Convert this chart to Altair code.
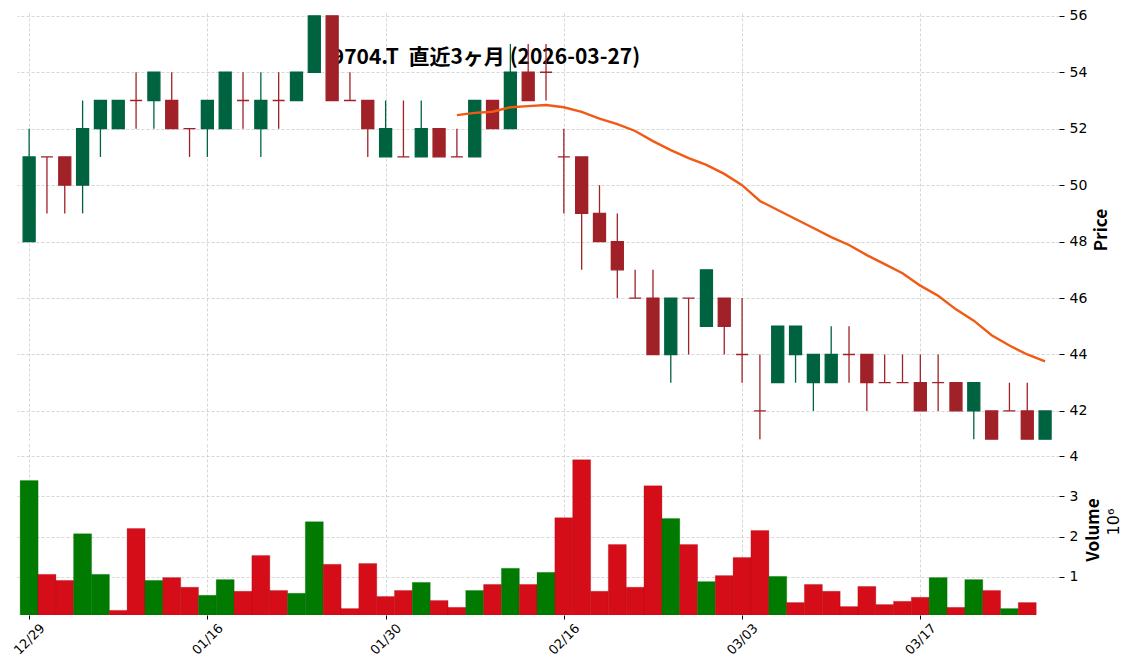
import altair as alt
import pandas as pd

# ---- data ----
dates = ["12/29", "12/30", "01/05", "01/06", "01/07", "01/08", "01/09", "01/13", "01/14", "01/15",
         "01/16", "01/19", "01/20", "01/21", "01/22", "01/23", "01/26", "01/27", "01/28", "01/29",
         "01/30", "02/02", "02/03", "02/04", "02/05", "02/06", "02/09", "02/10", "02/12", "02/13",
         "02/16", "02/17", "02/18", "02/19", "02/20", "02/24", "02/25", "02/26", "02/27", "03/02",
         "03/03", "03/04", "03/05", "03/06", "03/09", "03/10", "03/11", "03/12", "03/13", "03/16",
         "03/17", "03/18", "03/19", "03/23", "03/24", "03/25", "03/26", "03/27"]
opens = [48, 51, 51, 50, 52, 52, 53, 53, 53, 52, 52, 52, 53, 52, 53, 53, 54, 56, 53, 53,
         51, 51, 51, 52, 51, 51, 53, 52, 54, 54, 51, 51, 49, 48, 46, 46, 44, 46, 45, 46,
         44, 42, 43, 44, 43, 43, 44, 44, 43, 43, 43, 43, 43, 42, 42, 42, 42, 41]
highs = [52, 51, 51, 53, 53, 53, 54, 54, 54, 52, 53, 54, 54, 54, 54, 54, 56, 56, 54, 53,
         53, 53, 53, 52, 52, 53, 53, 55, 55, 55, 52, 51, 50, 49, 47, 47, 46, 46, 47, 46,
         46, 44, 45, 45, 44, 45, 45, 44, 44, 44, 44, 44, 43, 43, 42, 43, 43, 42]
lows = [48, 49, 49, 49, 51, 52, 52, 52, 52, 51, 51, 52, 52, 51, 52, 53, 54, 53, 53, 51,
        51, 51, 51, 51, 51, 51, 52, 52, 53, 53, 49, 47, 48, 46, 46, 44, 43, 44, 45, 44,
        43, 41, 43, 43, 42, 43, 43, 42, 43, 43, 42, 42, 42, 41, 41, 42, 41, 41]
closes = [51, 51, 50, 52, 53, 53, 53, 54, 52, 52, 53, 54, 53, 53, 53, 54, 56, 53, 53, 52,
          52, 51, 52, 51, 51, 53, 52, 54, 53, 54, 51, 49, 48, 47, 46, 44, 46, 46, 47, 45,
          44, 42, 45, 45, 44, 44, 44, 43, 43, 43, 42, 43, 42, 43, 41, 42, 41, 42]
# volume in millions of shares (last day has no volume bar)
volumes = [3.39, 1.06, 0.91, 2.07, 1.06, 0.165, 2.20, 0.91, 0.98, 0.74,
           0.54, 0.93, 0.64, 1.53, 0.66, 0.59, 2.37, 1.31, 0.21, 1.33,
           0.51, 0.66, 0.86, 0.41, 0.24, 0.66, 0.81, 1.21, 0.81, 1.11,
           2.47, 3.91, 0.64, 1.80, 0.74, 3.26, 2.45, 1.80, 0.88, 1.03,
           1.48, 2.15, 1.01, 0.36, 0.81, 0.64, 0.26, 0.76, 0.31, 0.39,
           0.49, 0.98, 0.24, 0.93, 0.66, 0.21, 0.36, None]
tick_idx = [0, 10, 20, 30, 40, 50]
price_ticks = [42, 44, 46, 48, 50, 52, 54, 56]
volume_ticks = [1, 2, 3, 4]
title_text = "9704.T \u00a0直近3ヶ月 (2026-03-27)"

df = pd.DataFrame({"i": range(len(dates)), "date": dates, "open": opens, "high": highs,
                   "low": lows, "close": closes, "volume": volumes})
df["candle"] = ["up" if c > o else "down" for o, c in zip(opens, closes)]
prev = [None] + closes[:-1]
df["vdir"] = ["vup" if (p is None and c > o) or (p is not None and c > p) else "vdown"
              for o, c, p in zip(opens, closes, prev)]

W = 1042
H_PRICE = 427
H_VOL = 171
XDOM = [-0.4, 57.5]
FONT_TICK = "DejaVu Sans"
FONT_JP = "Noto Sans CJK JP"
GRID = dict(grid=True, gridColor="#cccccc", gridDash=[3, 2], gridWidth=0.8)

label_expr = "[" + ",".join("'%s'" % d for d in dates) + "][datum.value]"

xscale = alt.Scale(domain=XDOM, nice=False, zero=False)
x_price = alt.X("i:Q", scale=xscale,
                axis=alt.Axis(values=tick_idx, labels=False, ticks=False, domain=False,
                              title=None, **GRID))
x_vol = alt.X("i:Q", scale=xscale,
              axis=alt.Axis(values=tick_idx, labelExpr=label_expr, labelAngle=-45,
                            labelAlign="center", labelBaseline="middle", labelPadding=20,
                            labelFont=FONT_TICK, labelFontSize=13, labelColor="black",
                            ticks=True, tickSize=4, tickColor="black", domain=False,
                            title=None, **GRID))

candle_color = alt.Color("candle:N", scale=alt.Scale(domain=["up", "down"],
                                                     range=["#006340", "#a02128"]), legend=None)
vol_color = alt.Color("vdir:N", scale=alt.Scale(domain=["vup", "vdown"],
                                                range=["#007a00", "#d50d18"]), legend=None)

yprice = alt.Scale(domain=[40.97, 56.1], nice=False, zero=False)
y_price_axis = alt.Axis(orient="right", values=price_ticks, title=None, domain=False,
                        tickSize=5, tickColor="black", labelFont=FONT_TICK, labelFontSize=14,
                        labelColor="black", labelPadding=5, **GRID)

base = alt.Chart(df)

title_mark = alt.Chart(pd.DataFrame({"t": [title_text]})).mark_text(
    font=FONT_JP, fontSize=21, fontWeight="bold", color="black", align="center",
    baseline="middle").encode(x=alt.value(469), y=alt.value(45), text="t:N")

wicks = base.mark_rule(strokeWidth=1.3).encode(
    x=x_price, y=alt.Y("low:Q", scale=yprice, axis=y_price_axis), y2="high:Q",
    color=candle_color)
bodies = base.mark_bar(width=12, strokeWidth=1.3).encode(
    x=x_price, y=alt.Y("open:Q", scale=yprice), y2="close:Q",
    color=candle_color, stroke=candle_color)
ma = base.transform_window(
    ma="mean(close)", n="count()", frame=[-24, 0], sort=[alt.SortField("i")]
).transform_filter("datum.n >= 25").mark_line(color="#f05a14", strokeWidth=2.4).encode(
    x=x_price, y=alt.Y("ma:Q", scale=yprice))
price_label = alt.Chart(pd.DataFrame({"t": ["Price"]})).mark_text(
    font=FONT_JP, fontSize=17, fontWeight="bold", color="black", angle=270,
    align="center", baseline="middle").encode(x=alt.value(1085), y=alt.value(217), text="t:N")

price = alt.layer(title_mark, wicks, bodies, ma, price_label).properties(width=W, height=H_PRICE)

vbars = base.transform_filter("isValid(datum.volume)").mark_bar(
    width=18, clip=True, strokeWidth=0.5, strokeOpacity=0.5).encode(
    x=x_vol,
    y=alt.Y("volume:Q", scale=alt.Scale(domain=[0.05, 4.30], nice=False, zero=False),
            axis=alt.Axis(orient="right", values=volume_ticks, title=None, domain=False,
                          tickSize=5, tickColor="black", labelFont=FONT_TICK,
                          labelFontSize=14, labelColor="black", labelPadding=5, **GRID)),
    y2=alt.datum(0.05),
    color=vol_color, stroke=alt.Stroke("vdir:N", scale=alt.Scale(domain=["vup", "vdown"],
                                       range=["#006800", "#a00a14"]), legend=None))
vol_label = alt.Chart(pd.DataFrame({"t": ["Volume"]})).mark_text(
    font=FONT_JP, fontSize=17, fontWeight="bold", color="black", angle=270,
    align="center", baseline="middle").encode(x=alt.value(1077), y=alt.value(86), text="t:N")
exp_label = alt.Chart(pd.DataFrame({"t": ["10⁶"]})).mark_text(
    font=FONT_TICK, fontSize=16, color="black", angle=270,
    align="center", baseline="middle").encode(x=alt.value(1097), y=alt.value(78), text="t:N")

volume = alt.layer(vbars, vol_label, exp_label).properties(width=W, height=H_VOL)

chart = alt.vconcat(price, volume, spacing=4).resolve_scale(
    color="independent", stroke="independent"
).properties(
    padding={"left": 3, "top": 0, "right": 5, "bottom": 5}
).configure(background="white").configure_view(stroke=None)

chart.save("out.html", embed_options={"renderer": "svg", "actions": False})
